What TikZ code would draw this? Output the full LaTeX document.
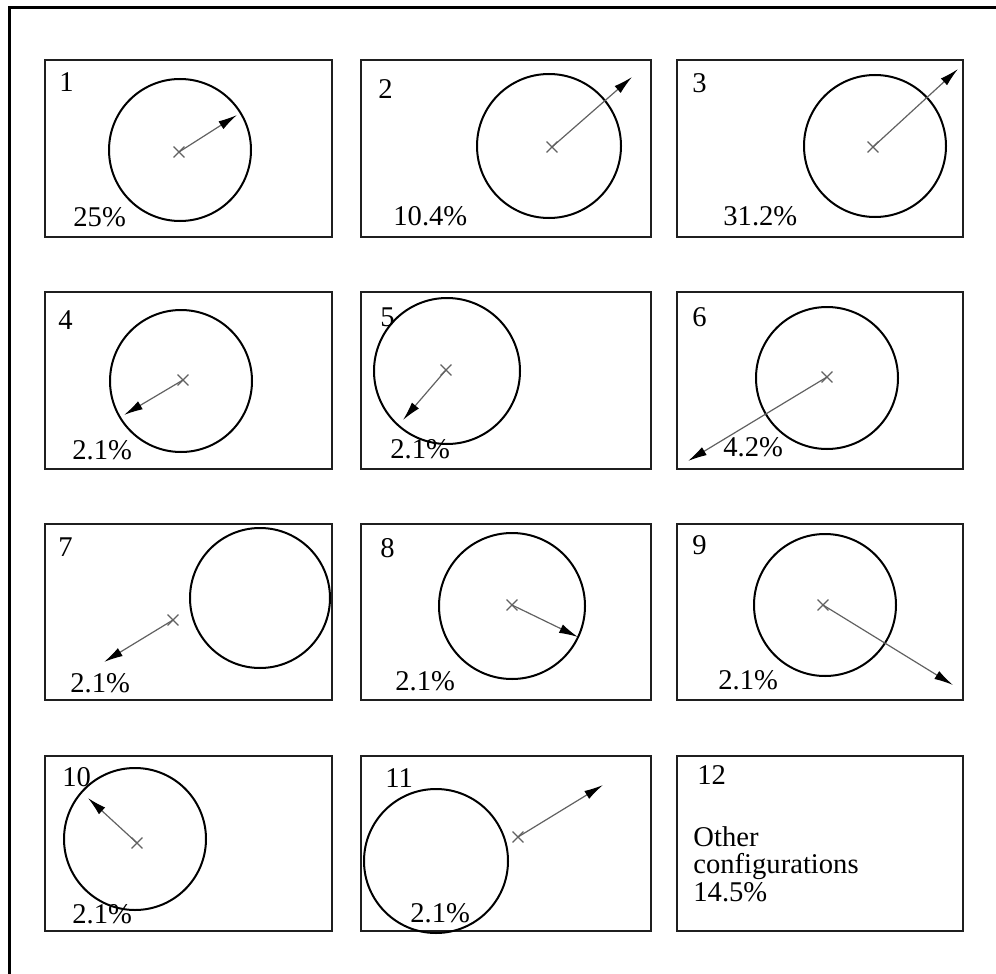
\documentclass[tikz,border=0pt]{standalone}
\usepackage{fontspec}
\setmainfont{Liberation Serif}
\usepackage{tkz-euclide}
\usetikzlibrary{arrows.meta,shapes.misc}
\definecolor{BoxClr}{rgb}{0.12,0.12,0.12}
\definecolor{ShaftClr}{rgb}{0.38,0.38,0.38}

\begin{document}
\begin{tikzpicture}[x=0.5pt,y=-0.5pt,
  panel/.style={line width=1.3pt,draw=BoxClr},
  ring/.style={line width=1pt,color=black},
  shaft/.style={line width=0.6pt,color=ShaftClr,-{Latex[length=9.5pt,width=4.6pt,color=black]}},
  crossmk/.style={cross out,draw=ShaftClr,line width=0.6pt,minimum size=4.8pt,inner sep=0pt},
  num/.style={anchor=north west,inner sep=0pt,font=\fontsize{14.3}{13.8}\selectfont},
  pct/.style={anchor=base west,inner sep=0pt,font=\fontsize{14.3}{13.8}\selectfont}]
\useasboundingbox (0,0) rectangle (996,974);
\draw[line width=1.5pt] (9,974) -- (9,8) -- (996,8);

\foreach \l/\t/\r/\b in {45/60/332/237,361/60/651/237,677/60/963/237,
  45/292/332/469,361/292/651/469,677/292/963/469,
  45/524/332/700,361/524/651/700,677/524/963/700,
  45/756/332/931,361/756/651/931,677/756/963/931}
  \draw[panel] (\l,\t) rectangle (\r,\b);

\tkzDefPoints{180/150/C1,251/150/R1,549/146/C2,621/146/R2,875/146/C3,946/146/R3,
  181/381/C4,252/381/R4,447/371/C5,520/371/R5,827/378/C6,898/378/R6,
  260/598/C7,330/598/R7,512/606/C8,585/606/R8,825/605/C9,896/605/R9,
  135/839/C10,206/839/R10,436/861/C11,508/861/R11}
\tkzDefPoints{179/152/X1,552/147/X2,873/147/X3,183/380/X4,446/370/X5,827/377/X6,
  173/620/X7,512/605/X8,823/605/X9,137/843/X10,518/837/X11}
\tkzDefPoints{237/115/T1,632/77/T2,958/69/T3,124/415/T4,403/420/T5,688/461/T6,
  104/662/T7,578/637/T8,953/685/T9,88/798/T10,603/785/T11}

\tkzDrawCircles[ring](C1,R1 C2,R2 C3,R3 C4,R4 C5,R5 C6,R6 C7,R7 C8,R8 C9,R9 C10,R10 C11,R11)

\foreach \i in {1,...,11}
  \node[crossmk] (k\i) at (X\i) {};

\tkzDrawSegments[shaft](X1,T1 X2,T2 X3,T3 X4,T4 X5,T5 X6,T6 X7,T7 X8,T8 X9,T9 X10,T10 X11,T11)

\foreach \x/\y/\n in {59/72/1,378/79/2,692/73/3,58/310/4,380/307/5,692/307/6,
  58/537/7,380/538/8,692/535/9,62/767/10,385/768/11,697/765/12}
  \node[num] (n\n) at (\x,\y) {\n};

\foreach \x/\y/\p/\n in {73/227/25/1,393/225/10.4/2,723/225/31.2/3,72/459/2.1/4,
  390/458/2.1/5,723/456/4.2/6,70/692/2.1/7,395/690/2.1/8,718/689/2.1/9,
  72/923/2.1/10,410/922/2.1/11}
  \node[pct] (p\n) at (\x,\y) {\p\%};

\node[num,align=left] (p12) at (693,826) {Other\\configurations\\14.5\%};

\end{tikzpicture}
\end{document}
